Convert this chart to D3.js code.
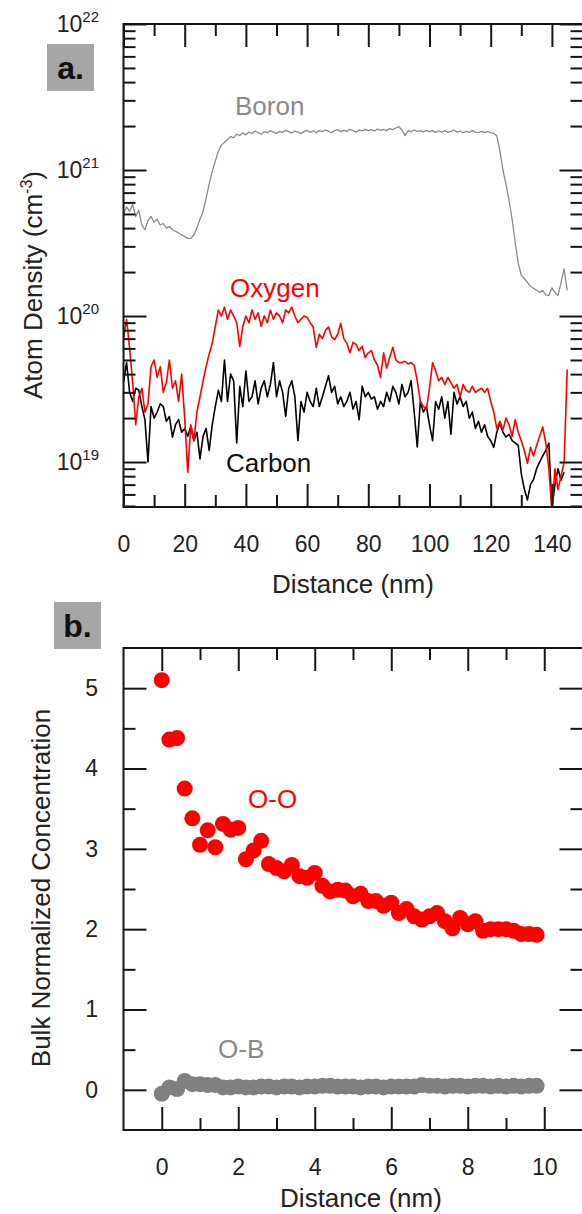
<!DOCTYPE html>
<html>
<head>
<meta charset="utf-8">
<script src="https://cdn.jsdelivr.net/npm/d3@7"></script>
<style>
  body { margin: 0; background: #fff; }
  svg { display: block; }
  text { font-family: Arial, "Liberation Sans", Helvetica, sans-serif; }
</style>
</head>
<body>
<svg id="chart" width="582" height="1214"></svg>
<script>
// ---- Panel a: SIMS depth profiles, atom density in units of 1e19 cm^-3, one point per nm ----
const depthStepNm = 1;
const boronE19 = [50, 56, 52, 58, 48, 53, 42, 39, 45, 48, 44, 46, 42, 43, 40, 41, 39, 38, 37, 36,
  35, 34, 34, 36, 40, 46, 52, 64, 80, 98, 115, 135, 148, 155, 162, 170, 166, 176, 172, 180,
  174, 182, 178, 185, 180, 176, 183, 180, 186, 182, 178, 184, 181, 187, 183, 179, 185, 182, 178, 184,
  187, 181, 185, 180, 186, 183, 188, 184, 180, 186, 189, 183, 187, 184, 190, 186, 182, 188, 185, 190,
  186, 189, 185, 191, 187, 190, 186, 192, 189, 194, 198, 188, 172, 186, 183, 188, 184, 186, 182, 187,
  183, 186, 181, 185, 182, 186, 181, 184, 188, 182, 185, 180, 184, 181, 186, 182, 180, 184, 181, 183,
  180, 178, 172, 135, 100, 80, 62, 46, 32, 23, 19, 18, 17, 16, 15.5, 15, 14.5, 15, 14, 13.8,
  15.6, 14.5, 13.8, 17, 21, 15];
const oxygenE19 = [7, 9.5, 6, 3.5, 1.8, 2.8, 3.2, 2.2, 2.5, 4.5, 5.0, 3.8, 4.5, 3.0, 3.5, 5.0, 3.2, 3.6, 2.6, 4.0,
  2.0, 0.85, 1.8, 1.4, 2.2, 2.8, 3.6, 4.5, 5.5, 6.5, 8.5, 11, 10, 11.5, 9.5, 11, 10, 9, 6.2, 8.5,
  10, 9, 11, 9.5, 10.5, 8.5, 10, 9, 11, 9.5, 10.5, 10, 9, 11, 10.5, 11.5, 10, 9, 9.5, 10,
  9.8, 9, 8.4, 6.1, 7.5, 7, 8, 8.4, 7.2, 6.9, 7.5, 8.9, 7, 6.5, 5.6, 6.6, 6.4, 5.8, 6.2, 5.2,
  5.6, 5.8, 5.0, 4.6, 3.8, 5.6, 4.4, 5.2, 6.1, 5.0, 4.8, 4.8, 4.9, 4.7, 4.8, 4.6, 3.6, 2.6, 2.4, 2.3,
  3.2, 4.8, 4.2, 3.6, 3.8, 3.4, 3.8, 3.5, 3.2, 3.4, 2.8, 3.4, 3.1, 3.0, 3.3, 3.0, 3.1, 3.2, 3.0, 3.2,
  2.6, 2.2, 1.7, 1.9, 1.66, 2.0, 1.8, 1.5, 1.95, 1.6, 1.4, 1.2, 0.98, 1.26, 1.1, 1.3, 1.5, 1.74, 1.35, 0.9,
  0.47, 0.9, 0.65, 0.8, 1.0, 4.3];
const carbonE19 = [3.5, 4.8, 3.0, 2.6, 3.2, 3.1, 2.4, 1.95, 1.0, 2.4, 2.0, 2.2, 2.5, 2.4, 1.9, 2.05, 1.48, 1.8, 1.95, 1.6,
  1.7, 1.5, 1.75, 1.4, 1.6, 1.05, 1.5, 1.7, 1.2, 1.8, 2.4, 3.1, 2.6, 5.0, 2.6, 4.0, 3.6, 1.35, 3.3, 2.4,
  4.2, 2.6, 2.8, 3.6, 2.5, 3.2, 3.6, 2.8, 3.4, 4.8, 2.8, 3.6, 3.0, 2.05, 3.2, 3.6, 2.8, 1.4, 2.6, 2.2,
  3.0, 2.6, 2.4, 3.2, 2.4, 2.8, 3.3, 3.9, 3.0, 3.3, 2.5, 2.8, 2.4, 2.6, 3.0, 2.3, 2.6, 1.95, 3.3, 2.8,
  3.0, 2.7, 2.8, 2.3, 2.6, 2.4, 3.0, 2.6, 3.3, 3.0, 2.5, 3.4, 2.8, 3.0, 3.6, 2.2, 1.27, 2.6, 2.2, 2.4,
  1.8, 1.4, 2.6, 2.3, 2.8, 2.0, 2.6, 1.55, 3.0, 2.5, 2.8, 2.4, 2.6, 2.0, 2.2, 1.7, 1.9, 1.6, 1.8, 1.5,
  1.4, 1.26, 1.6, 1.85, 1.6, 1.48, 1.55, 1.4, 1.35, 1.3, 0.83, 0.65, 0.55, 0.7, 0.76, 0.9, 1.0, 1.1, 1.2, 1.35,
  0.48, 0.7, 0.9, 0.75, 0.85];

// axis ticks, panel a
const depthMajorTicks = [0, 20, 40, 60, 80, 100, 120, 140];
const depthMinorTicks = [10, 30, 50, 70, 90, 110, 130];
const decadeTicks = [1e19, 1e20, 1e21, 1e22];
const decadeExponents = ["19", "20", "21", "22"];
const minorMultipliers = [2, 3, 4, 5, 6, 7, 8, 9];

// ---- Panel b: bulk-normalized pair concentration vs distance ----
const pairDistanceNm = [0.0, 0.2, 0.4, 0.6, 0.8, 1.0, 1.2, 1.4, 1.6, 1.8, 2.0, 2.2, 2.4, 2.6, 2.8, 3.0, 3.2, 3.4, 3.6, 3.8,
  4.0, 4.2, 4.4, 4.6, 4.8, 5.0, 5.2, 5.4, 5.6, 5.8, 6.0, 6.2, 6.4, 6.6, 6.8, 7.0, 7.2, 7.4, 7.6, 7.8,
  8.0, 8.2, 8.4, 8.6, 8.8, 9.0, 9.2, 9.4, 9.6, 9.8];
const oxygenOxygen = [5.10, 4.36, 4.38, 3.75, 3.38, 3.05, 3.23, 3.02, 3.31, 3.24, 3.26, 2.87, 2.98, 3.10, 2.81, 2.76, 2.72, 2.80, 2.66, 2.64,
  2.70, 2.54, 2.47, 2.49, 2.48, 2.41, 2.44, 2.35, 2.35, 2.29, 2.33, 2.20, 2.25, 2.16, 2.12, 2.16, 2.20, 2.10, 2.01, 2.14,
  2.06, 2.10, 1.98, 2.00, 2.00, 2.00, 1.98, 1.94, 1.94, 1.93];
const oxygenBoron = [-0.05, 0.03, 0.01, 0.11, 0.07, 0.07, 0.06, 0.06, 0.03, 0.03, 0.04, 0.03, 0.03, 0.04, 0.04, 0.03, 0.04, 0.04, 0.03, 0.04,
  0.04, 0.05, 0.05, 0.04, 0.04, 0.04, 0.03, 0.04, 0.04, 0.03, 0.04, 0.04, 0.04, 0.04, 0.06, 0.05, 0.05, 0.04, 0.05, 0.05,
  0.04, 0.05, 0.05, 0.04, 0.05, 0.04, 0.05, 0.04, 0.05, 0.05];

const distMajorTicks = [0, 2, 4, 6, 8, 10];
const distMinorTicks = [1, 3, 5, 7, 9];
const concMajorTicks = [0, 1, 2, 3, 4, 5];
const concMinorTicks = [0.5, 1.5, 2.5, 3.5, 4.5];

// ---- layout ----
const svg = d3.select("#chart");
const INK = "#151515";
const LABEL = "#222";
const TICK_FONT = 23;
const TITLE_FONT = 26;
const MAJOR = 23, MINOR = 12;

const PA = { left: 123.5, right: 582.5, top: 24, bottom: 507 };
const PB = { left: 123.5, right: 582.5, top: 648, bottom: 1130 };

const xA = d3.scaleLinear().domain([0, 150]).range([PA.left, PA.right]);
const yA = d3.scaleLog().domain([4.92e18, 1e22]).range([PA.bottom, PA.top]);
const xB = d3.scaleLinear().domain([-1, 11]).range([PB.left, PB.right]);
const yB = d3.scaleLinear().domain([-0.5, 5.5]).range([PB.bottom, PB.top]);

function styleAxis(g) {
  g.select(".domain").remove();
  g.selectAll("line").attr("stroke", INK).attr("stroke-width", 2);
  g.attr("font-size", TICK_FONT)
   .attr("font-family", 'Arial, "Liberation Sans", sans-serif')
   .style("color", LABEL);
}

function addAxis(axis, tx, ty) {
  return svg.append("g").attr("transform", `translate(${tx},${ty})`).call(axis).call(styleAxis);
}

// frame: the right-hand edge sits just past the page border
function drawFrame(P) {
  svg.append("path")
    .attr("d", `M${P.right + 2},${P.top}H${P.left}V${P.bottom}H${P.right + 2}`)
    .attr("fill", "none").attr("stroke", INK).attr("stroke-width", 2);
}

function panelTag(x, y, label) {
  svg.append("rect").attr("x", x).attr("y", y).attr("width", 47).attr("height", 47).attr("fill", "#a6a6a6");
  svg.append("text").attr("x", x + 23.5).attr("y", y + 35).attr("text-anchor", "middle")
    .attr("font-size", 32).attr("font-weight", "bold").attr("fill", "#111").text(label);
}

// ================= Panel a =================
const logMinor = [];
[1e18, 1e19, 1e20, 1e21].forEach(dec => minorMultipliers.forEach(m => {
  const v = m * dec;
  if (v >= yA.domain()[0] && v <= yA.domain()[1]) logMinor.push(v);
}));

svg.append("clipPath").attr("id", "clipA").append("rect")
  .attr("x", PA.left).attr("y", PA.top).attr("width", PA.right - PA.left).attr("height", PA.bottom - PA.top);

const profile = d3.line()
  .x((d, i) => xA(i * depthStepNm))
  .y(d => yA(d * 1e19));

const gA = svg.append("g").attr("clip-path", "url(#clipA)");
gA.append("path").datum(boronE19).attr("d", profile)
  .attr("fill", "none").attr("stroke", "#8a8a8a").attr("stroke-width", 1.3).attr("stroke-linejoin", "round");
gA.append("path").datum(carbonE19).attr("d", profile)
  .attr("fill", "none").attr("stroke", "#000").attr("stroke-width", 1.6).attr("stroke-linejoin", "round");
gA.append("path").datum(oxygenE19).attr("d", profile)
  .attr("fill", "none").attr("stroke", "#ff0000").attr("stroke-width", 1.6).attr("stroke-linejoin", "round");

// x axis (bottom labelled, top mirrored)
addAxis(d3.axisBottom(xA).tickValues(depthMajorTicks).tickSize(-MAJOR).tickPadding(28.7).tickFormat(d3.format("d")), 0, PA.bottom);
addAxis(d3.axisBottom(xA).tickValues(depthMinorTicks).tickSize(-MINOR).tickFormat(""), 0, PA.bottom);
addAxis(d3.axisTop(xA).tickValues(depthMajorTicks).tickSize(-MAJOR).tickFormat(""), 0, PA.top);
addAxis(d3.axisTop(xA).tickValues(depthMinorTicks).tickSize(-MINOR).tickFormat(""), 0, PA.top);

// y axis (log, left labelled as powers of ten, right mirrored)
const yAxisA = addAxis(d3.axisLeft(yA).tickValues(decadeTicks).tickSize(-MAJOR).tickPadding(24.5).tickFormat(() => ""), PA.left, 0);
yAxisA.selectAll(".tick text").each(function (d, i) {
  const t = d3.select(this);
  t.append("tspan").text("10");
  t.append("tspan").attr("dy", -10).attr("font-size", 15).text(decadeExponents[i]);
});
addAxis(d3.axisLeft(yA).tickValues(logMinor).tickSize(-MINOR).tickFormat(""), PA.left, 0);
addAxis(d3.axisRight(yA).tickValues(decadeTicks).tickSize(-MAJOR).tickFormat(""), PA.right, 0);
addAxis(d3.axisRight(yA).tickValues(logMinor).tickSize(-MINOR).tickFormat(""), PA.right, 0);

drawFrame(PA);

// series labels
svg.append("text").attr("x", 235).attr("y", 115).attr("font-size", TITLE_FONT).attr("fill", "#8a8a8a").text("Boron");
svg.append("text").attr("x", 230).attr("y", 297).attr("font-size", TITLE_FONT).attr("fill", "#ff0000").text("Oxygen");
svg.append("text").attr("x", 226).attr("y", 472).attr("font-size", TITLE_FONT).attr("fill", "#111").text("Carbon");

// axis titles
svg.append("text").attr("x", (PA.left + PA.right) / 2).attr("y", 593).attr("text-anchor", "middle")
  .attr("font-size", TITLE_FONT).attr("fill", LABEL).text("Distance (nm)");
const yTitleA = svg.append("text").attr("transform", "translate(42,285) rotate(-90)")
  .attr("text-anchor", "middle").attr("font-size", TITLE_FONT).attr("fill", LABEL);
yTitleA.append("tspan").text("Atom Density (cm");
yTitleA.append("tspan").attr("dy", -10).attr("font-size", 16).text("-3");
yTitleA.append("tspan").attr("dy", 10).text(")");

panelTag(47, 44, "a.");

// ================= Panel b =================
addAxis(d3.axisBottom(xB).tickValues(distMajorTicks).tickSize(-MAJOR).tickPadding(28.7).tickFormat(d3.format("d")), 0, PB.bottom);
addAxis(d3.axisBottom(xB).tickValues(distMinorTicks).tickSize(-MINOR).tickFormat(""), 0, PB.bottom);
addAxis(d3.axisTop(xB).tickValues(distMajorTicks).tickSize(-MAJOR).tickFormat(""), 0, PB.top);
addAxis(d3.axisTop(xB).tickValues(distMinorTicks).tickSize(-MINOR).tickFormat(""), 0, PB.top);
addAxis(d3.axisLeft(yB).tickValues(concMajorTicks).tickSize(-MAJOR).tickPadding(25.5).tickFormat(d3.format("d")), PB.left, 0);
addAxis(d3.axisLeft(yB).tickValues(concMinorTicks).tickSize(-MINOR).tickFormat(""), PB.left, 0);
addAxis(d3.axisRight(yB).tickValues(concMajorTicks).tickSize(-MAJOR).tickFormat(""), PB.right, 0);
addAxis(d3.axisRight(yB).tickValues(concMinorTicks).tickSize(-MINOR).tickFormat(""), PB.right, 0);

const gB = svg.append("g");
gB.selectAll("circle.ob").data(oxygenBoron).join("circle").attr("class", "ob")
  .attr("cx", (d, i) => xB(pairDistanceNm[i])).attr("cy", d => yB(d)).attr("r", 8).attr("fill", "#808080");
gB.selectAll("circle.oo").data(oxygenOxygen).join("circle").attr("class", "oo")
  .attr("cx", (d, i) => xB(pairDistanceNm[i])).attr("cy", d => yB(d)).attr("r", 8).attr("fill", "#ff0000");

drawFrame(PB);

svg.append("text").attr("x", 248).attr("y", 808).attr("font-size", TITLE_FONT).attr("fill", "#ff0000").text("O-O");
svg.append("text").attr("x", 218).attr("y", 1058).attr("font-size", TITLE_FONT).attr("fill", "#8a8a8a").text("O-B");

svg.append("text").attr("x", 361).attr("y", 1207).attr("text-anchor", "middle")
  .attr("font-size", TITLE_FONT).attr("fill", LABEL).text("Distance (nm)");
svg.append("text").attr("transform", "translate(50,888) rotate(-90)")
  .attr("text-anchor", "middle").attr("font-size", TITLE_FONT).attr("fill", LABEL).text("Bulk Normalized Concentration");

panelTag(54, 602, "b.");
</script>
</body>
</html>
